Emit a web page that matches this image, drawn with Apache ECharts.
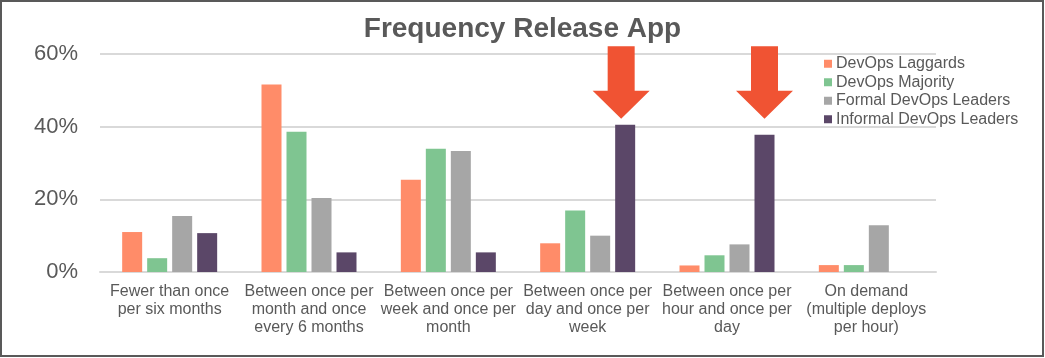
<!DOCTYPE html>
<html>
<head>
<meta charset="utf-8">
<script src="https://cdn.jsdelivr.net/npm/echarts@6/dist/echarts.min.js"></script>
<style>
html,body{margin:0;padding:0;background:#fff;}
#chart{width:1045px;height:358px;}
</style>
</head>
<body>
<div id="chart"></div>
<script>
var categories = [
  "Fewer than once\nper six months",
  "Between once per\nmonth and once\nevery 6 months",
  "Between once per\nweek and once per\nmonth",
  "Between once per\nday and once per\nweek",
  "Between once per\nhour and once per\nday",
  "On demand\n(multiple deploys\nper hour)"
];
var seriesNames = ["DevOps Laggards", "DevOps Majority", "Formal DevOps Leaders", "Informal DevOps Leaders"];
var laggards = [11.0, 51.6, 25.4, 7.9, 1.8, 1.9];
var majority = [3.8, 38.6, 33.9, 16.9, 4.6, 1.9];
var formalLeaders = [15.4, 20.4, 33.3, 10.0, 7.6, 12.9];
var informalLeaders = [10.7, 5.4, 5.4, 40.5, 37.8, 0];
var yTicks = [0, 20, 40, 60];
// arrow annotations: category index, tip value, top value
var arrowCats = [3, 4];
var arrowTip = [42.2, 42.2];
var arrowTop = [62.1, 62.1];

var colors = ["#FF8C69", "#7FC591", "#A6A6A6", "#5B4768"];
var allData = [laggards, majority, formalLeaders, informalLeaders];
var FONT = "Liberation Sans, Arial, sans-serif";

var chart = echarts.init(document.getElementById('chart'), null, {renderer: 'canvas'});
var series = seriesNames.map(function (n, i) {
  return {
    name: n,
    type: 'bar',
    data: allData[i],
    barWidth: 20,
    barGap: '25%',
    itemStyle: {color: colors[i]},
    emphasis: {disabled: true}
  };
});
chart.setOption({
  animation: false,
  backgroundColor: '#fff',
  title: {
    text: 'Frequency Release App',
    left: 'center',
    top: 10,
    textStyle: {fontFamily: FONT, fontSize: 28, fontWeight: 'bold', color: '#595959'}
  },
  legend: {
    orient: 'vertical',
    left: 819,
    top: 50,
    itemWidth: 8,
    itemHeight: 8,
    itemGap: 1,
    icon: 'rect',
    textStyle: {fontFamily: FONT, fontSize: 16, color: '#595959', lineHeight: 17.5, padding: [0, 0, 0, -1]},
    data: seriesNames
  },
  grid: {left: 100, right: 109, top: 54, bottom: 86, containLabel: false},
  xAxis: {
    type: 'category',
    data: categories,
    axisTick: {show: false},
    axisLine: {lineStyle: {color: '#D9D9D9', width: 2}},
    axisLabel: {fontFamily: FONT, fontSize: 16, color: '#595959', lineHeight: 17.7, margin: 11, interval: 0}
  },
  yAxis: {
    type: 'value',
    min: yTicks[0],
    max: yTicks[yTicks.length - 1],
    interval: yTicks[1] - yTicks[0],
    axisLine: {show: false},
    axisTick: {show: false},
    splitLine: {lineStyle: {color: '#D9D9D9', width: 2}},
    axisLabel: {fontFamily: FONT, fontSize: 22, color: '#595959', margin: 22, formatter: '{value}%'}
  },
  series: series
});

function drawGraphics() {
  var els = [];
  els.push({
    type: 'rect',
    shape: {x: 1, y: 1, width: 1042, height: 355},
    style: {fill: null, stroke: '#595959', lineWidth: 2},
    z: 100
  });
  arrowCats.forEach(function (c, i) {
    var cx = chart.convertToPixel({xAxisIndex: 0}, c) + 37.5 - (i === 0 ? 4 : 0);
    var yTip = chart.convertToPixel({yAxisIndex: 0}, arrowTip[i]);
    var yTop = chart.convertToPixel({yAxisIndex: 0}, arrowTop[i]);
    var headH = 28, shaftW = 27, headW = 57;
    var yHead = yTip - headH;
    els.push({
      type: 'polygon',
      shape: {points: [
        [cx - shaftW / 2, yTop], [cx + shaftW / 2, yTop], [cx + shaftW / 2, yHead],
        [cx + headW / 2, yHead], [cx, yTip], [cx - headW / 2, yHead], [cx - shaftW / 2, yHead]
      ]},
      style: {fill: '#F05333'},
      z: 50
    });
  });
  chart.setOption({graphic: {elements: els}});
}
drawGraphics();
</script>
</body>
</html>
